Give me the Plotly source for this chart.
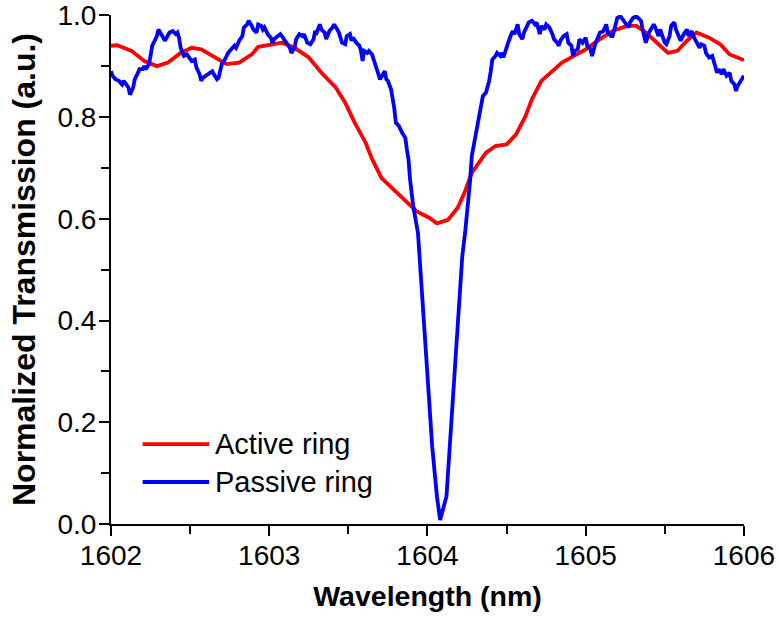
import plotly.graph_objects as go

# Active ring (red) – wavelength (nm) and normalized transmission
active_wl = [1602.00, 1602.04, 1602.13, 1602.21, 1602.29, 1602.36, 1602.44, 1602.51, 1602.57,
             1602.66, 1602.73, 1602.81, 1602.89, 1602.93, 1603.01, 1603.08, 1603.16, 1603.25,
             1603.33, 1603.42, 1603.48, 1603.54, 1603.61, 1603.65, 1603.71, 1603.78, 1603.85,
             1603.93, 1604.01, 1604.06, 1604.13, 1604.19, 1604.23, 1604.28, 1604.37, 1604.43,
             1604.50, 1604.56, 1604.62, 1604.66, 1604.72, 1604.79, 1604.85, 1604.92, 1605.00,
             1605.09, 1605.17, 1605.26, 1605.32, 1605.38, 1605.45, 1605.52, 1605.58, 1605.64,
             1605.70, 1605.78, 1605.85, 1605.91, 1605.99, 1606.00]
active_tr = [0.940, 0.941, 0.930, 0.910, 0.900, 0.907, 0.926, 0.936, 0.933,
             0.917, 0.904, 0.907, 0.923, 0.938, 0.943, 0.946, 0.936, 0.917,
             0.887, 0.858, 0.828, 0.789, 0.749, 0.717, 0.680, 0.660, 0.638,
             0.615, 0.602, 0.591, 0.598, 0.621, 0.648, 0.690, 0.730, 0.743,
             0.746, 0.766, 0.802, 0.835, 0.871, 0.890, 0.907, 0.919, 0.933,
             0.953, 0.969, 0.979, 0.979, 0.966, 0.946, 0.926, 0.930, 0.950,
             0.966, 0.956, 0.943, 0.923, 0.913, 0.912]

# Passive ring (blue)
passive_wl = [1602.00, 1602.01, 1602.03, 1602.05, 1602.07, 1602.08, 1602.11, 1602.12, 1602.14,
              1602.15, 1602.17, 1602.18, 1602.20, 1602.21, 1602.22, 1602.24, 1602.25, 1602.26,
              1602.27, 1602.29, 1602.30, 1602.32, 1602.33, 1602.34, 1602.36, 1602.37, 1602.39,
              1602.41, 1602.42, 1602.43, 1602.44, 1602.45, 1602.46, 1602.48, 1602.50, 1602.51,
              1602.53, 1602.54, 1602.56, 1602.57, 1602.58, 1602.60, 1602.62, 1602.64, 1602.65,
              1602.67, 1602.68, 1602.70, 1602.72, 1602.74, 1602.76, 1602.78, 1602.79, 1602.81,
              1602.83, 1602.84, 1602.86, 1602.87, 1602.89, 1602.90, 1602.92, 1602.93, 1602.95,
              1602.96, 1602.97, 1602.99, 1603.01, 1603.02, 1603.03, 1603.05, 1603.07, 1603.08,
              1603.10, 1603.12, 1603.13, 1603.14, 1603.16, 1603.17, 1603.19, 1603.21, 1603.22,
              1603.24, 1603.26, 1603.28, 1603.29, 1603.30, 1603.32, 1603.33, 1603.35, 1603.36,
              1603.38, 1603.40, 1603.41, 1603.43, 1603.44, 1603.46, 1603.48, 1603.49, 1603.51,
              1603.52, 1603.53, 1603.55, 1603.57, 1603.58, 1603.59, 1603.60, 1603.62, 1603.63,
              1603.65, 1603.66, 1603.68, 1603.69, 1603.70, 1603.72, 1603.73, 1603.74, 1603.75,
              1603.77, 1603.78, 1603.79, 1603.80, 1603.82, 1603.84, 1603.86, 1603.87, 1603.88,
              1603.89, 1603.91, 1603.94, 1603.95, 1603.97, 1603.99, 1604.01, 1604.03, 1604.06,
              1604.08, 1604.12, 1604.14, 1604.17, 1604.20, 1604.22, 1604.24, 1604.26, 1604.27,
              1604.28, 1604.32, 1604.34, 1604.35, 1604.37, 1604.39, 1604.40, 1604.41, 1604.43,
              1604.44, 1604.46, 1604.47, 1604.48, 1604.50, 1604.51, 1604.53, 1604.54, 1604.55,
              1604.57, 1604.58, 1604.60, 1604.61, 1604.63, 1604.64, 1604.66, 1604.68, 1604.69,
              1604.71, 1604.72, 1604.74, 1604.75, 1604.77, 1604.79, 1604.80, 1604.82, 1604.83,
              1604.84, 1604.86, 1604.88, 1604.89, 1604.91, 1604.92, 1604.93, 1604.95, 1604.96,
              1604.98, 1605.00, 1605.01, 1605.03, 1605.04, 1605.06, 1605.08, 1605.09, 1605.11,
              1605.13, 1605.14, 1605.16, 1605.17, 1605.19, 1605.20, 1605.22, 1605.24, 1605.25,
              1605.27, 1605.28, 1605.30, 1605.32, 1605.33, 1605.35, 1605.36, 1605.37, 1605.38,
              1605.40, 1605.41, 1605.43, 1605.44, 1605.46, 1605.47, 1605.48, 1605.50, 1605.51,
              1605.53, 1605.54, 1605.56, 1605.57, 1605.59, 1605.60, 1605.62, 1605.64, 1605.65,
              1605.67, 1605.68, 1605.70, 1605.72, 1605.73, 1605.75, 1605.76, 1605.78, 1605.80,
              1605.81, 1605.83, 1605.84, 1605.86, 1605.87, 1605.89, 1605.91, 1605.92, 1605.94,
              1605.95, 1605.96, 1605.98, 1606.00]
passive_tr = [0.890, 0.881, 0.874, 0.871, 0.864, 0.871, 0.858, 0.844, 0.858,
              0.874, 0.887, 0.894, 0.894, 0.900, 0.894, 0.904, 0.920, 0.940,
              0.946, 0.959, 0.972, 0.963, 0.956, 0.950, 0.963, 0.966, 0.969,
              0.963, 0.966, 0.956, 0.936, 0.926, 0.920, 0.923, 0.913, 0.910,
              0.913, 0.897, 0.884, 0.871, 0.877, 0.881, 0.884, 0.890, 0.884,
              0.874, 0.877, 0.904, 0.913, 0.926, 0.933, 0.940, 0.936, 0.950,
              0.959, 0.976, 0.982, 0.989, 0.979, 0.972, 0.966, 0.982, 0.979,
              0.972, 0.976, 0.963, 0.956, 0.946, 0.953, 0.959, 0.963, 0.959,
              0.950, 0.943, 0.936, 0.926, 0.936, 0.953, 0.963, 0.959, 0.963,
              0.946, 0.943, 0.953, 0.969, 0.966, 0.982, 0.972, 0.966, 0.953,
              0.969, 0.976, 0.982, 0.972, 0.966, 0.946, 0.943, 0.959, 0.963,
              0.950, 0.956, 0.946, 0.940, 0.930, 0.910, 0.930, 0.926, 0.930,
              0.923, 0.913, 0.897, 0.884, 0.874, 0.887, 0.890, 0.874, 0.871,
              0.854, 0.838, 0.818, 0.789, 0.782, 0.769, 0.759, 0.736, 0.717,
              0.677, 0.625, 0.572, 0.526, 0.447, 0.349, 0.251, 0.152, 0.054,
              0.008, 0.054, 0.152, 0.270, 0.441, 0.526, 0.579, 0.638, 0.677,
              0.723, 0.789, 0.822, 0.841, 0.848, 0.871, 0.890, 0.913, 0.920,
              0.926, 0.920, 0.926, 0.917, 0.933, 0.946, 0.963, 0.969, 0.963,
              0.982, 0.963, 0.953, 0.966, 0.982, 0.986, 0.989, 0.982, 0.986,
              0.963, 0.979, 0.972, 0.982, 0.976, 0.963, 0.953, 0.946, 0.940,
              0.950, 0.959, 0.963, 0.946, 0.940, 0.920, 0.930, 0.933, 0.953,
              0.946, 0.956, 0.940, 0.933, 0.920, 0.943, 0.959, 0.966, 0.968,
              0.982, 0.966, 0.959, 0.959, 0.982, 0.995, 0.998, 0.989, 0.982,
              0.976, 0.986, 0.995, 0.998, 0.995, 0.989, 0.972, 0.956, 0.946,
              0.966, 0.972, 0.982, 0.976, 0.959, 0.972, 0.963, 0.946, 0.943,
              0.959, 0.979, 0.986, 0.972, 0.956, 0.950, 0.963, 0.972, 0.959,
              0.969, 0.959, 0.946, 0.936, 0.943, 0.940, 0.926, 0.917, 0.920,
              0.907, 0.887, 0.894, 0.884, 0.894, 0.881, 0.887, 0.871, 0.864,
              0.851, 0.861, 0.871, 0.881]

series_names = ["Active ring", "Passive ring"]
series_colors = ["#FF0000", "#0000FF"]

x_ticks = [1602, 1603, 1604, 1605, 1606]
y_ticks = [0.0, 0.2, 0.4, 0.6, 0.8, 1.0]

FONT = "Liberation Sans, Arial, sans-serif"
LW = 3.8

fig = go.Figure()
fig.add_trace(go.Scatter(x=active_wl, y=active_tr, mode="lines", name=series_names[0],
                         line=dict(color=series_colors[0], width=LW)))
fig.add_trace(go.Scatter(x=passive_wl, y=passive_tr, mode="lines", name=series_names[1],
                         line=dict(color=series_colors[1], width=LW)))

# Manual legend (long line samples as in the reference)
legend_y = [0.157, 0.0825]
for name, color, ly in zip(series_names, series_colors, legend_y):
    fig.add_shape(type="line", xref="paper", yref="paper", x0=0.05, x1=0.155, y0=ly, y1=ly,
                  line=dict(color=color, width=LW))
    fig.add_annotation(text=name, xref="paper", yref="paper", x=0.161, y=ly, xanchor="left",
                       yanchor="middle", showarrow=False, font=dict(family=FONT, size=29, color="black"))

fig.update_layout(
    width=779, height=622,
    margin=dict(l=111, r=35, t=15, b=98),
    paper_bgcolor="white", plot_bgcolor="white",
    showlegend=False,
    font=dict(family=FONT, color="black"),
)
fig.update_xaxes(
    range=[1602, 1606.0005], tickvals=x_ticks, ticktext=[str(v) for v in x_ticks],
    automargin=False,
    showline=True, linecolor="black", linewidth=2, mirror=False,
    ticks="outside", ticklen=10, tickwidth=2, tickcolor="black",
    ticklabelstandoff=-5,
    minor=dict(ticks="outside", dtick=0.5, ticklen=8, tickwidth=2, tickcolor="black", showgrid=False),
    showgrid=False, zeroline=False,
    tickfont=dict(family=FONT, size=28, color="black"),
    title=dict(text="Wavelength (nm)", font=dict(family=FONT, size=28.5, color="black", weight="bold"),
               standoff=16),
)
fig.update_yaxes(
    range=[0, 1.0005], tickvals=y_ticks, ticktext=[f"{v:.1f}" for v in y_ticks],
    automargin=False,
    showline=True, linecolor="black", linewidth=2, mirror=False,
    ticks="outside", ticklen=10, tickwidth=2, tickcolor="black",
    ticklabelstandoff=-3,
    minor=dict(ticks="outside", dtick=0.1, ticklen=8, tickwidth=2, tickcolor="black", showgrid=False),
    showgrid=False, zeroline=False,
    tickfont=dict(family=FONT, size=28, color="black"),
    title=dict(text="Normalized Transmission (a.u.)",
               font=dict(family=FONT, size=32, color="black", weight="bold"), standoff=12),
)

fig.write_html("out.html")
